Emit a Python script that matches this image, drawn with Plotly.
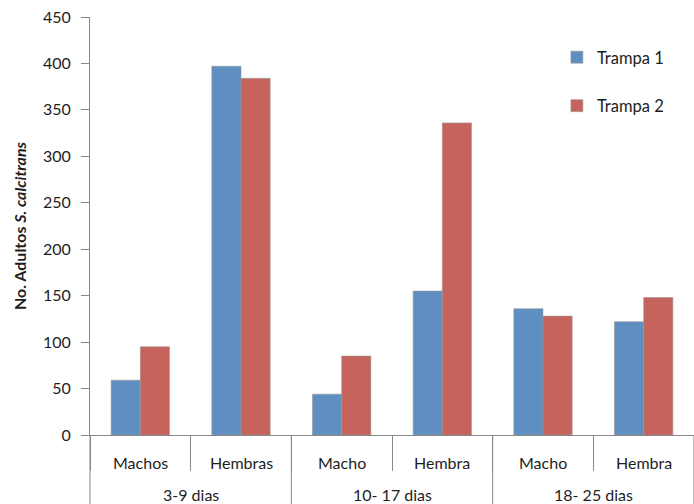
import plotly.graph_objects as go

# Age ranges (outer level) and sex (inner level) for each bar pair
periodos = ["3-9 dias", "3-9 dias", "10- 17 dias", "10- 17 dias", "18- 25 dias", "18- 25 dias"]
sexos = ["Machos", "Hembras", "Macho", "Hembra", "Macho", "Hembra"]
grupos = ["3-9 dias", "10- 17 dias", "18- 25 dias"]

# Adult S. calcitrans counts per trap
trampa_1 = [59, 397, 44, 155, 136, 122]
trampa_2 = [95, 384, 85, 336, 128, 148]

y_ticks = [0, 50, 100, 150, 200, 250, 300, 350, 400, 450]

FONT = "Lato, 'Open Sans', sans-serif"
TEXT = "#1e1e1e"
AXIS_GREY = "#878787"
BLUE = "#5E8FC0"
RED = "#C5635C"

W, H = 694, 504
M_L, M_R, M_T, M_B = 90, 0, 17, 69
plot_h = H - M_T - M_B


def below_axis(px):
    """Paper-y coordinate for a point px pixels below the x axis line."""
    return -px / plot_h


fig = go.Figure()
fig.add_trace(go.Bar(
    x=[periodos, sexos], y=trampa_1, name="Trampa 1", legendgroup="t1",
    marker=dict(color=BLUE, line=dict(color="rgba(150,150,150,0.7)", width=0.8)),
))
fig.add_trace(go.Bar(
    x=[periodos, sexos], y=trampa_2, name="Trampa 2", legendgroup="t2",
    marker=dict(color=RED, line=dict(color="rgba(150,150,150,0.7)", width=0.8)),
))

fig.update_layout(
    width=W, height=H,
    margin=dict(l=M_L, r=M_R, t=M_T, b=M_B),
    paper_bgcolor="white", plot_bgcolor="white",
    font=dict(family=FONT, size=16, color=TEXT),
    barmode="group", bargap=0.42, bargroupgap=0,
    showlegend=True,
    legend=dict(
        x=0.773, y=0.945, xanchor="left", yanchor="top",
        font=dict(family=FONT, size=16.5, color=TEXT),
        tracegroupgap=24, itemwidth=30,
        bgcolor="rgba(0,0,0,0)",
    ),
    xaxis=dict(
        type="multicategory",
        showline=True, linecolor=AXIS_GREY, linewidth=1,
        ticks="outside", tickson="boundaries", ticklen=35, tickcolor=AXIS_GREY,
        showdividers=False, showticklabels=False,
        showgrid=False,
    ),
    yaxis=dict(
        range=[0, 450], tickvals=y_ticks,
        showline=True, linecolor=AXIS_GREY, linewidth=1,
        ticks="outside", ticklen=8, tickcolor=AXIS_GREY,
        ticklabelstandoff=7,
        showgrid=False, zeroline=False,
        tickfont=dict(family=FONT, size=16, color=TEXT),
        title=dict(text="<b>No. Adultos <i>S. calcitrans</i></b>",
                   font=dict(family=FONT, size=16, color=TEXT), standoff=12),
    ),
)

n = len(sexos)

# Inner category labels (sex)
for i, s in enumerate(sexos):
    fig.add_annotation(text=s, xref="paper", yref="paper",
                       x=(i + 0.5) / n, y=below_axis(27),
                       xanchor="center", yanchor="middle", showarrow=False,
                       font=dict(family=FONT, size=16, color=TEXT))

# Outer category labels (age range) and the dividers between them
per_group = n // len(grupos)
for g, label in enumerate(grupos):
    fig.add_annotation(text=label, xref="paper", yref="paper",
                       x=(g * per_group + per_group / 2) / n, y=below_axis(59),
                       xanchor="center", yanchor="middle", showarrow=False,
                       font=dict(family=FONT, size=16, color=TEXT))
for g in range(len(grupos) + 1):
    fig.add_shape(type="line", xref="paper", yref="paper",
                  x0=g * per_group / n, x1=g * per_group / n,
                  y0=0, y1=below_axis(M_B),
                  line=dict(color=AXIS_GREY, width=1))

fig.write_html("out.html")
